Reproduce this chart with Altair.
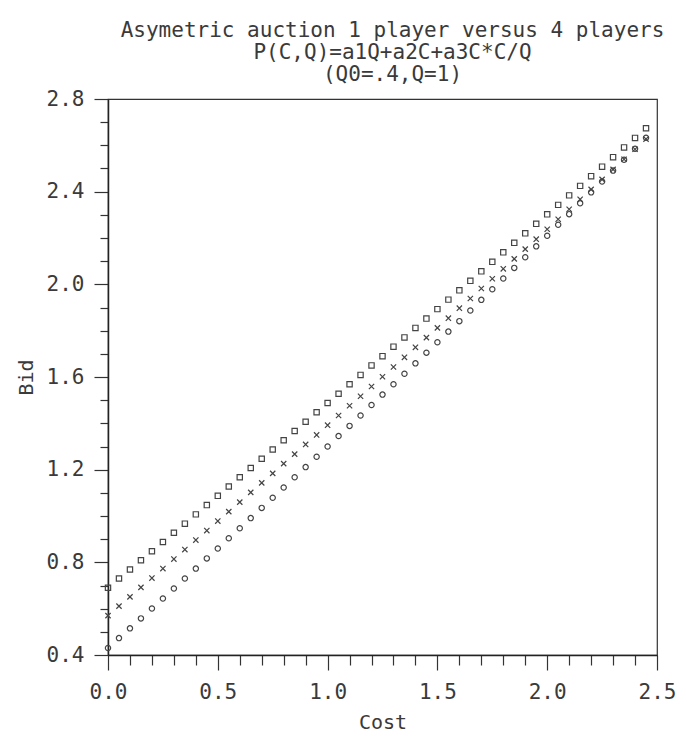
import altair as alt
import pandas as pd

# ---- data ----
cost = [0.00, 0.05, 0.10, 0.15, 0.20, 0.25, 0.30, 0.35, 0.40, 0.45,
        0.50, 0.55, 0.60, 0.65, 0.70, 0.75, 0.80, 0.85, 0.90, 0.95,
        1.00, 1.05, 1.10, 1.15, 1.20, 1.25, 1.30, 1.35, 1.40, 1.45,
        1.50, 1.55, 1.60, 1.65, 1.70, 1.75, 1.80, 1.85, 1.90, 1.95,
        2.00, 2.05, 2.10, 2.15, 2.20, 2.25, 2.30, 2.35, 2.40, 2.45]

bid_upper = [0.690, 0.730, 0.769, 0.809, 0.848, 0.888, 0.928, 0.967, 1.007, 1.047,
             1.087, 1.127, 1.167, 1.207, 1.247, 1.287, 1.327, 1.367, 1.407, 1.448,
             1.488, 1.528, 1.569, 1.609, 1.650, 1.690, 1.731, 1.771, 1.812, 1.852,
             1.893, 1.934, 1.974, 2.015, 2.056, 2.097, 2.138, 2.179, 2.220, 2.261,
             2.302, 2.343, 2.384, 2.425, 2.467, 2.508, 2.549, 2.591, 2.632, 2.674]

bid_middle = [0.570, 0.611, 0.651, 0.692, 0.732, 0.773, 0.814, 0.855, 0.896, 0.937,
              0.978, 1.019, 1.060, 1.102, 1.143, 1.184, 1.226, 1.267, 1.309, 1.350,
              1.392, 1.434, 1.476, 1.517, 1.559, 1.601, 1.643, 1.685, 1.728, 1.770,
              1.812, 1.854, 1.897, 1.939, 1.982, 2.024, 2.067, 2.110, 2.152, 2.195,
              2.238, 2.281, 2.324, 2.367, 2.410, 2.453, 2.496, 2.540, 2.583, 2.627]

bid_lower = [0.430, 0.473, 0.515, 0.558, 0.601, 0.644, 0.687, 0.730, 0.773, 0.817,
             0.860, 0.904, 0.947, 0.991, 1.035, 1.079, 1.123, 1.167, 1.211, 1.256,
             1.300, 1.345, 1.389, 1.434, 1.479, 1.524, 1.569, 1.614, 1.659, 1.705,
             1.750, 1.796, 1.841, 1.887, 1.933, 1.979, 2.025, 2.071, 2.117, 2.164,
             2.210, 2.257, 2.303, 2.350, 2.397, 2.444, 2.491, 2.538, 2.585, 2.633]

series_names = ["upper", "middle", "lower"]
series_shapes = ["square", "M-1,-1L1,1M1,-1L-1,1", "circle"]

x_ticks = [round(i * 0.1, 1) for i in range(0, 26)]
y_ticks = [round(0.4 + i * 0.1, 1) for i in range(0, 25)]

title_lines = ["Asymetric auction 1 player versus 4 players",
               "P(C,Q)=a1Q+a2C+a3C*C/Q",
               "(Q0=.4,Q=1)"]

rows = []
for name, vals in zip(series_names, [bid_upper, bid_middle, bid_lower]):
    for c, b in zip(cost, vals):
        rows.append({"Cost": c, "Bid": b, "series": name})
df = pd.DataFrame(rows)

FONT = "DejaVu Sans Mono"
TXT = "#3a3a3a"

chart = alt.Chart(df).mark_point(filled=False, size=28, strokeWidth=1.2, color="#444", opacity=1).encode(
    x=alt.X("Cost:Q",
            scale=alt.Scale(domain=[0, 2.5], nice=False, zero=False),
            axis=alt.Axis(values=x_ticks, title="Cost", grid=False,
                          labelExpr="round(datum.value*10) % 5 === 0 ? format(datum.value, '.1f') : ''",
                          labelOverlap=False, labelFlush=False,
                          tickSize={"condition": {"test": "round(datum.value*10) % 5 === 0", "value": 15}, "value": 10},
                          labelPadding=11)),
    y=alt.Y("Bid:Q",
            scale=alt.Scale(domain=[0.4, 2.8], nice=False, zero=False),
            axis=alt.Axis(values=y_ticks, title="Bid", grid=False,
                          labelExpr="round(datum.value*10) % 4 === 0 ? format(datum.value, '.1f') : ''",
                          labelOverlap=False, labelFlush=False,
                          tickSize={"condition": {"test": "round(datum.value*10) % 4 === 0", "value": 14}, "value": 8},
                          labelPadding=10)),
    shape=alt.Shape("series:N", scale=alt.Scale(domain=series_names, range=series_shapes), legend=None),
).properties(
    width=549,
    height=556,
    title=alt.TitleParams(text=title_lines, font=FONT, fontSize=21, fontWeight="normal",
                          color=TXT, anchor="middle", dx=10, offset=3, lineHeight=22),
    padding={"left": 108, "top": 99, "right": 30, "bottom": 81},
    autosize=alt.AutoSizeParams(type="none"),
).configure_view(
    stroke="#333", strokeWidth=1.2
).configure_axis(
    labelFont=FONT, labelFontSize=21, labelColor=TXT,
    titleFont=FONT, titleFontSize=20, titleFontWeight="normal", titleColor=TXT,
    domainColor="#222", domainWidth=1.5, tickColor="#333", tickWidth=1.2,
).configure_axisX(
    titlePadding=10
).configure_axisY(
    titlePadding=10
)

chart.save("out.html", embed_options={"renderer": "svg", "actions": False})
